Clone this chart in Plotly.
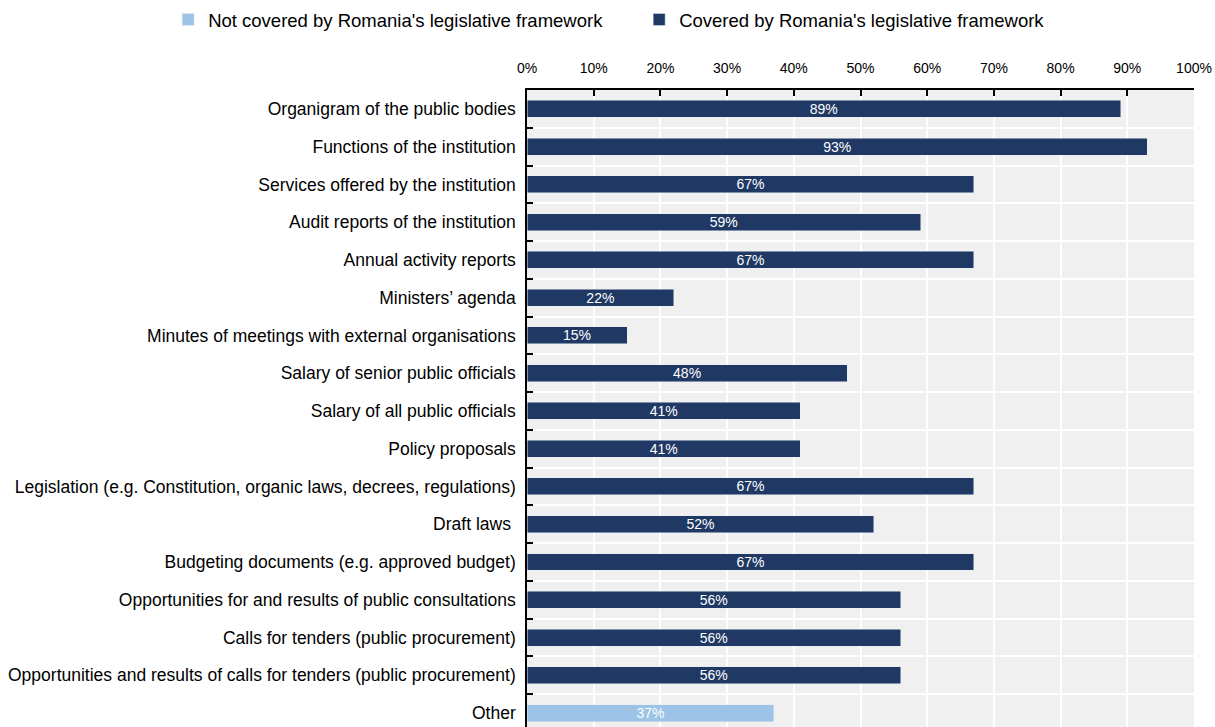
import plotly.graph_objects as go

# Share of countries whose legislative framework covers each type of information
categories = [
    "Organigram of the public bodies",
    "Functions of the institution",
    "Services offered by the institution",
    "Audit reports of the institution",
    "Annual activity reports",
    "Ministers’ agenda",
    "Minutes of meetings with external organisations",
    "Salary of senior public officials",
    "Salary of all public officials",
    "Policy proposals",
    "Legislation (e.g. Constitution, organic laws, decrees, regulations)",
    "Draft laws ",
    "Budgeting documents (e.g. approved budget)",
    "Opportunities for and results of public consultations",
    "Calls for tenders (public procurement)",
    "Opportunities and results of calls for tenders (public procurement)",
    "Other",
]
covered = [89, 93, 67, 59, 67, 22, 15, 48, 41, 41, 67, 52, 67, 56, 56, 56, None]
not_covered = [None] * 16 + [37]

tick_vals = [0, 10, 20, 30, 40, 50, 60, 70, 80, 90, 100]
tick_text = [f"{v}%" for v in tick_vals]

FONT = "Liberation Sans Narrow, Arial Narrow, Liberation Sans, Arial, sans-serif"
NAVY = "#203864"
LIGHT = "#9DC3E6"


def labels(vals):
    return [f"{v}%" if v is not None else "" for v in vals]


fig = go.Figure()
fig.add_trace(go.Bar(
    y=categories, x=not_covered, orientation="h",
    name="Not covered by Romania's legislative framework",
    marker=dict(color=LIGHT),
    text=labels(not_covered), textposition="inside",
    insidetextanchor="middle",
    textfont=dict(color="white", size=14, family=FONT),
    width=0.45,
))
fig.add_trace(go.Bar(
    y=categories, x=covered, orientation="h",
    name="Covered by Romania's legislative framework",
    marker=dict(color=NAVY),
    text=labels(covered), textposition="inside",
    insidetextanchor="middle",
    textfont=dict(color="white", size=14, family=FONT),
    width=0.45,
))

fig.update_layout(
    width=1215, height=727,
    margin=dict(l=527, r=21, t=90, b=0),
    barmode="stack",
    paper_bgcolor="white",
    plot_bgcolor="#F0F0F0",
    font=dict(family=FONT, size=17.5, color="black"),
    showlegend=True,
    legend=dict(
        orientation="h", x=-0.538, xanchor="left", y=1.11, yanchor="middle",
        font=dict(size=18.5, family=FONT), entrywidth=426, entrywidthmode="pixels",
        traceorder="normal",
    ),
    uniformtext=dict(mode="show", minsize=14),
)
fig.update_xaxes(
    side="top", range=[0, 100],
    tickvals=tick_vals, ticktext=tick_text,
    tickfont=dict(size=14, family=FONT),
    showline=True, linecolor="black", linewidth=1.5,
    ticks="inside", ticklen=6, tickcolor="black", tickwidth=1.5,
    ticklabelstandoff=10,
    showgrid=True, gridcolor="white", gridwidth=2,
    zeroline=False, fixedrange=True,
)
fig.update_yaxes(
    type="category", categoryorder="array", categoryarray=categories,
    range=[16.37, -0.5],
    showline=True, linecolor="black", linewidth=1.5,
    ticks="inside", ticklen=6, tickcolor="black", tickwidth=1.5,
    tickson="boundaries",
    showgrid=True, gridcolor="white", gridwidth=2,
    tickfont=dict(size=17.5, family=FONT),
    ticklabelstandoff=6,
    automargin=False, fixedrange=True,
)

fig.write_html("out.html")
